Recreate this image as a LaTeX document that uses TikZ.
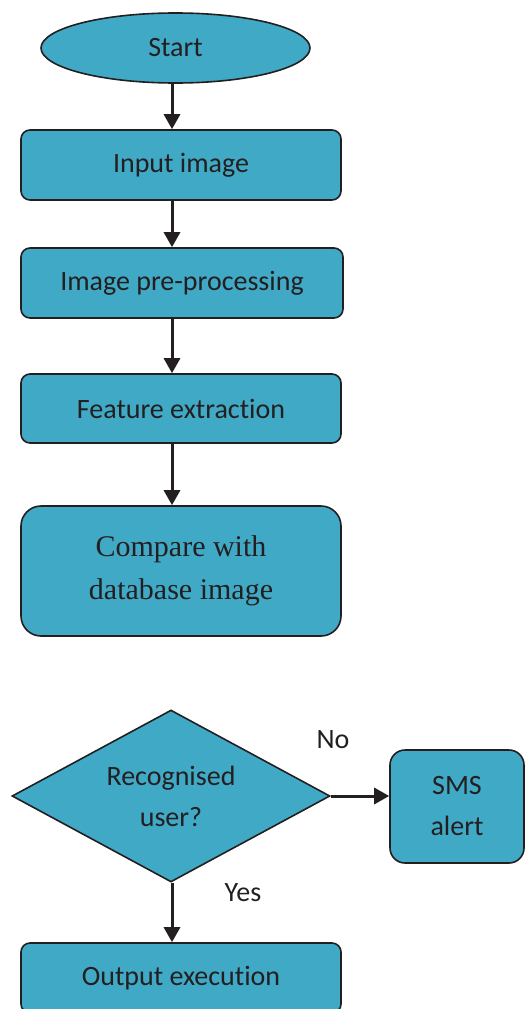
\documentclass[tikz,border=0pt]{standalone}
\usepackage{fontspec}
\setmainfont{Carlito}[Ligatures=NoCommon]
\newfontfamily\cmpfont{Liberation Serif}
\usetikzlibrary{shapes.geometric,arrows.meta}
\definecolor{boxfill}{HTML}{40A9C6}
\definecolor{ink}{HTML}{231F20}
\begin{document}
\begin{tikzpicture}[x=1pt,y=-1pt,
  base/.style={draw=ink, line width=1.6pt, fill=boxfill, inner sep=0pt, text=ink,
    font=\fontsize{28}{41}\selectfont, align=center},
  box/.style={base, rectangle, rounded corners=9pt, minimum width=320pt, minimum height=70pt},
  arr/.style={draw=ink, line width=3pt, -{Triangle[width=16pt,length=15pt]}},
  lbl/.style={text=ink, font=\fontsize{28}{34}\selectfont, inner sep=0pt}]
\useasboundingbox (0,0) rectangle (526,1009);
\clip (0,0) rectangle (526,1009);
\coordinate (ax) at (172,0);
\node[base, ellipse, minimum width=269pt, minimum height=70pt] (start) at (175.5,48) {Start};
\node[box] (input) at (181,165) {Input image};
\node[box, minimum width=322pt] (pre) at (182,283) {Image pre-processing};
\node[box, minimum height=69pt] (feat) at (181,408.5) {Feature extraction};
\node[box, minimum height=130pt, rounded corners=20pt, font=\cmpfont\fontsize{30}{43}\selectfont] (comp) at (181,571) {Compare with\\database image};
\node[base, diamond, aspect=1.85, minimum width=318pt, minimum height=172pt] (dec) at (171,796) {Recognised\\user?};
\node[box, minimum width=134pt, minimum height=113pt, rounded corners=15pt] (sms) at (457,806.5) {SMS\\alert};
\node[box] (out) at (181,978) {Output execution};
\node[lbl] (no) at (333,740) {No};
\node[lbl] (yes) at (243,893) {Yes};
\draw[arr] (start.south -| ax) -- (input.north -| ax);
\draw[arr] (input.south -| ax) -- (pre.north -| ax);
\draw[arr] (pre.south -| ax) -- (feat.north -| ax);
\draw[arr] (feat.south -| ax) -- (comp.north -| ax);
\draw[arr] (dec.east) -- (dec.east -| sms.west);
\draw[arr] (dec.south -| ax) -- (out.north -| ax);
\end{tikzpicture}
\end{document}
